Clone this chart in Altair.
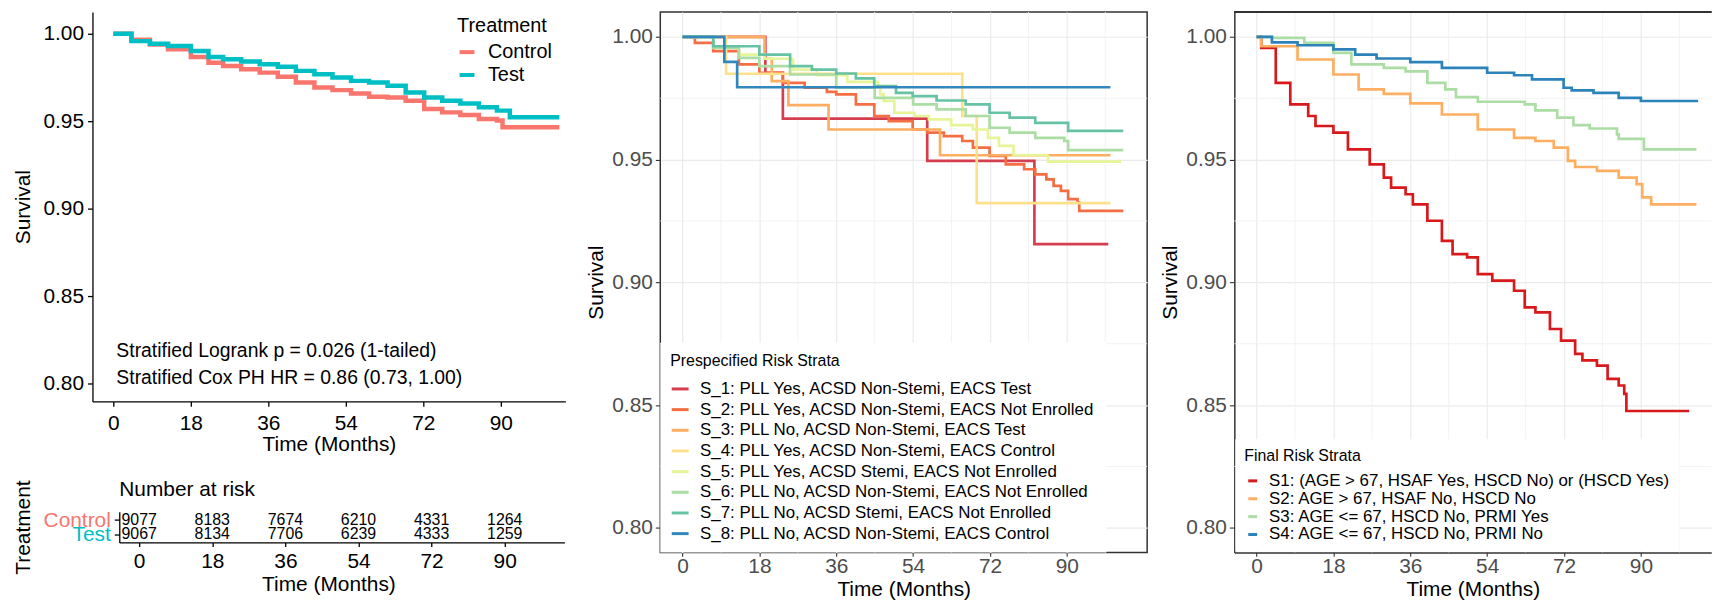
import altair as alt
import pandas as pd

FONT = "Liberation Sans"
GREY_TXT = "#4D4D4D"

# ---------------- Panel 1: treatment Kaplan-Meier ----------------
treat_groups = ["Control", "Test"]
treat_colors = ["#F8766D", "#00BFC4"]
control_time = [0, 4.2, 8.5, 12.7, 18, 22.1, 25.5, 29.7, 34, 38.2, 42.4, 46.7,
                50.9, 55.2, 59.4, 63.7, 67.9, 72.2, 76.4, 80.6, 84.9, 89.1, 90.4, 103.6]
control_surv = [1.0, 0.9966, 0.9939, 0.9912, 0.9867, 0.9835, 0.9816, 0.9797, 0.9778, 0.9754, 0.9722, 0.9693,
                0.9678, 0.9659, 0.9640, 0.9636, 0.9617, 0.9570, 0.9551, 0.9536, 0.9513, 0.9504, 0.9466, 0.9466]
test_time = [0, 4.2, 8.5, 12.7, 18, 22.1, 25.5, 29.7, 34, 38.2, 42.4, 46.7,
             50.9, 55.2, 59.4, 63.7, 67.9, 72.2, 76.4, 80.6, 84.9, 89.1, 92.1, 103.6]
test_surv = [1.0, 0.9958, 0.9943, 0.9930, 0.9902, 0.9867, 0.9854, 0.9841, 0.9826, 0.9811, 0.9788, 0.9769,
             0.9750, 0.9731, 0.9722, 0.9703, 0.9665, 0.9636, 0.9617, 0.9602, 0.9580, 0.9561, 0.9523, 0.9523]

annot_text = ["Stratified Logrank p = 0.026 (1-tailed)", "Stratified Cox PH HR = 0.86 (0.73, 1.00)"]
annot_time = [0.7, 0.7]
annot_surv = [0.8190, 0.8031]

risk_times = [0, 18, 36, 54, 72, 90]
risk_control = [9077, 8183, 7674, 6210, 4331, 1264]
risk_test = [9067, 8134, 7706, 6239, 4333, 1259]

month_ticks = [0, 18, 36, 54, 72, 90]
month_minor = [9, 27, 45, 63, 81, 99]
surv_ticks = [0.80, 0.85, 0.90, 0.95, 1.00]
surv_minor = [0.825, 0.875, 0.925, 0.975]

# ---------------- Panel 2: prespecified risk strata ----------------
pre_labels = [
    "S_1: PLL Yes, ACSD Non-Stemi, EACS Test",
    "S_2: PLL Yes, ACSD Non-Stemi, EACS Not Enrolled",
    "S_3: PLL No, ACSD Non-Stemi, EACS Test",
    "S_4: PLL Yes, ACSD Non-Stemi, EACS Control",
    "S_5: PLL Yes, ACSD Stemi, EACS Not Enrolled",
    "S_6: PLL No, ACSD Non-Stemi, EACS Not Enrolled",
    "S_7: PLL No, ACSD Stemi, EACS Not Enrolled",
    "S_8: PLL No, ACSD Non-Stemi, EACS Control",
]
pre_colors = ["#D53E4F", "#F46D43", "#FDAE61", "#FEE08B", "#E6F598", "#ABDDA4", "#66C2A5", "#3288BD"]

s1_time = [0, 19.4, 23.5, 57.3, 82.4, 99.7]
s1_surv = [1.0, 0.9854, 0.9667, 0.9495, 0.9156, 0.9156]
s2_time = [0, 2.9, 7.2, 13.2, 18, 23.5, 28.6, 33.8, 36, 40.6, 44.9, 48.3, 53.9, 57.3,
           61.2, 65.5, 68, 71.9, 75.7, 80, 82.6, 85.2, 86.9, 88.6, 90.3, 92.5, 92.9, 103.2]
s2_surv = [1.0, 0.9976, 0.9942, 0.9888, 0.9854, 0.9813, 0.9793, 0.9776, 0.9766, 0.9725, 0.9678, 0.9657, 0.9623, 0.9610,
           0.9596, 0.9576, 0.9549, 0.9515, 0.9481, 0.9461, 0.9440, 0.9420, 0.9393, 0.9373, 0.9339, 0.9325, 0.9291, 0.9291]
s3_time = [0, 19.2, 20.9, 24.8, 34.2, 60.3, 100.2]
s3_surv = [1.0, 0.9911, 0.9820, 0.9722, 0.9623, 0.9518, 0.9518]
s4_time = [0, 10.2, 65.5, 68.9, 100.2]
s4_surv = [1.0, 0.9850, 0.9678, 0.9323, 0.9323]
s5_time = [0, 7.2, 13.2, 19.2, 25.5, 25.9, 31.4, 38.6, 45.8, 46.3, 47.1, 49.6, 54.3, 57.7,
           62.9, 68, 71.5, 74.1, 77.5, 85.2, 85.6, 102.7]
s5_surv = [1.0, 0.9962, 0.9928, 0.9911, 0.9908, 0.9867, 0.9844, 0.9817, 0.9800, 0.9766, 0.9739, 0.9691, 0.9678, 0.9664,
           0.9641, 0.9623, 0.9589, 0.9556, 0.9519, 0.9515, 0.9492, 0.9492]
s6_time = [0, 7.2, 13.2, 18, 25.2, 36, 45, 54, 59.5, 66.3, 71.9, 76.6, 82.6, 89.4, 90.3, 103.2]
s6_surv = [1.0, 0.9955, 0.9915, 0.9881, 0.9847, 0.9793, 0.9752, 0.9725, 0.9705, 0.9678, 0.9630, 0.9610,
           0.9589, 0.9576, 0.9539, 0.9539]
s7_time = [0, 7.2, 18, 25.2, 30.3, 36, 40.6, 44.9, 50, 53.9, 59.5, 66.3, 71.9, 76.6, 82.6, 90.3, 103.2]
s7_surv = [1.0, 0.9962, 0.9928, 0.9881, 0.9867, 0.9851, 0.9831, 0.9800, 0.9772, 0.9759, 0.9741, 0.9725,
           0.9691, 0.9671, 0.9650, 0.9617, 0.9617]
s8_time = [0, 9.8, 12.8, 100.2]
s8_surv = [1.0, 0.9898, 0.9795, 0.9795]

# ---------------- Panel 3: final risk strata ----------------
final_labels = [
    "S1: (AGE > 67, HSAF Yes, HSCD No) or (HSCD Yes)",
    "S2: AGE > 67, HSAF No, HSCD No",
    "S3: AGE <= 67, HSCD No, PRMI Yes",
    "S4: AGE <= 67, HSCD No, PRMI No",
]
final_colors = ["#D7191C", "#FDAE61", "#ABDDA4", "#2B83BA"]

f1_time = [0, 1.1, 4.5, 7.9, 12.1, 13.8, 18, 21.4, 26.5, 29.8, 31.5, 34.9, 36.6, 40, 43.4, 45.9,
           49.3, 51.8, 55.2, 60.3, 62.8, 65.3, 68.7, 71.3, 74.6, 76.3, 79.7, 82.2, 84.8, 86.1, 86.6, 101.3]
f1_surv = [1.0, 0.9955, 0.9813, 0.9725, 0.9678, 0.9637, 0.9610, 0.9542, 0.9481, 0.9427, 0.9386, 0.9359,
           0.9318, 0.9251, 0.9169, 0.9115, 0.9102, 0.9034, 0.9007, 0.8966, 0.8898, 0.8878, 0.8810, 0.8763,
           0.8709, 0.8682, 0.8661, 0.8607, 0.8580, 0.8546, 0.8476, 0.8476]
f2_time = [0, 1.1, 9.6, 18, 23.9, 29.8, 36, 43.4, 51.8, 60.3, 65.3, 69.6, 72.9, 74.6, 79.7, 84.8,
           89, 90.3, 92.4, 103]
f2_surv = [1.0, 0.9962, 0.9908, 0.9847, 0.9786, 0.9768, 0.9729, 0.9684, 0.9623, 0.9589, 0.9576, 0.9549,
           0.9495, 0.9470, 0.9454, 0.9427, 0.9400, 0.9346, 0.9318, 0.9318]
f3_time = [0, 3.6, 11.2, 18, 22.2, 29.8, 34.9, 40, 44.2, 46.7, 51.8, 62.8, 65.3, 70.4, 74.2, 78,
           84.4, 84.8, 90.7, 103]
f3_surv = [1.0, 0.9996, 0.9976, 0.9935, 0.9888, 0.9874, 0.9860, 0.9813, 0.9786, 0.9755, 0.9736, 0.9725,
           0.9701, 0.9671, 0.9641, 0.9627, 0.9603, 0.9585, 0.9542, 0.9542]
f4_time = [0, 3.6, 9.6, 18, 23.1, 28.1, 36, 43.4, 54, 60.3, 64.5, 71.9, 73.8, 78.9, 84.8, 90, 103.4]
f4_surv = [1.0, 0.9978, 0.9966, 0.9949, 0.9928, 0.9912, 0.9897, 0.9874, 0.9854, 0.9844, 0.9827, 0.9793,
           0.9782, 0.9772, 0.9752, 0.9739, 0.9739]


def long_df(names, times, survs, key):
    rows = []
    for n, ts, ss in zip(names, times, survs):
        for t, s in zip(ts, ss):
            rows.append({key: n, "time": t, "surv": s})
    return pd.DataFrame(rows)


km_df = long_df(treat_groups, [control_time, test_time], [control_surv, test_surv], "treatment")
annot_df = pd.DataFrame({"time": annot_time, "surv": annot_surv, "label": annot_text})
risk_df = pd.DataFrame({
    "time": risk_times + risk_times,
    "treatment": ["Control"] * len(risk_times) + ["Test"] * len(risk_times),
    "n": risk_control + risk_test,
})
pre_df = long_df(pre_labels,
                 [s1_time, s2_time, s3_time, s4_time, s5_time, s6_time, s7_time, s8_time],
                 [s1_surv, s2_surv, s3_surv, s4_surv, s5_surv, s6_surv, s7_surv, s8_surv], "pre")
final_df = long_df(final_labels, [f1_time, f2_time, f3_time, f4_time],
                   [f1_surv, f2_surv, f3_surv, f4_surv], "final")
minor_x_df = pd.DataFrame({"time": month_minor})
minor_y_df = pd.DataFrame({"surv": surv_minor})

# ---------------- Left: KM plot ----------------
km_axis = dict(domainColor="black", domainWidth=1.3, tickColor="black", tickWidth=1.3, tickSize=5,
               labelColor="black", labelFontSize=21, titleFontSize=21, titleColor="black",
               titleFontWeight="normal", grid=False, labelFont=FONT, titleFont=FONT)
x_km = alt.Scale(domain=[-4.85, 105], nice=False, zero=False)
y_km = alt.Scale(domain=[0.79, 1.0125], nice=False, zero=False)

km_lines = alt.Chart(km_df).mark_line(interpolate="step-after", strokeWidth=4.5).encode(
    x=alt.X("time:Q", scale=x_km,
            axis=alt.Axis(values=month_ticks, title="Time (Months)", labelPadding=6,
                          titleY=43, titleBaseline="middle", **km_axis)),
    y=alt.Y("surv:Q", scale=y_km,
            axis=alt.Axis(values=surv_ticks, format=".2f", title="Survival", labelPadding=4,
                          titleX=-69.5, titleBaseline="middle", **km_axis)),
    color=alt.Color("treatment:N", scale=alt.Scale(domain=treat_groups, range=treat_colors),
                    legend=alt.Legend(title="Treatment", orient="none", legendX=365, legendY=2.5,
                                      padding=2, titleFontSize=20, titleFontWeight="normal",
                                      titleColor="black", titlePadding=6, labelFontSize=20,
                                      labelColor="black", symbolType="stroke", symbolSize=225,
                                      symbolStrokeWidth=4, rowPadding=3, labelOffset=11,
                                      labelLimit=300)),
)
km_text = alt.Chart(annot_df).mark_text(align="left", baseline="middle", fontSize=19.5,
                                        font=FONT, color="black").encode(
    x=alt.X("time:Q", scale=x_km), y=alt.Y("surv:Q", scale=y_km), text="label:N")
km = alt.layer(km_lines, km_text).properties(width=476, height=392)

# ---------------- Left: risk table ----------------
RISK_SHIFT = 27
risk_x_axis = dict(km_axis)
risk_x_axis["tickSize"] = 4
risk_y_axis = dict(km_axis)
risk_y_axis.pop("labelColor")
risk = alt.Chart(risk_df).mark_text(fontSize=16, font=FONT, color="black", baseline="middle").encode(
    x=alt.X("time:Q", scale=alt.Scale(domain=[-11.5, 104.7], nice=False, zero=False),
            axis=alt.Axis(values=month_ticks, title="Time (Months)", labelPadding=4,
                          titleY=42, titleBaseline="middle",
                          domainDash=[0, RISK_SHIFT, 448, 200], **risk_x_axis)),
    y=alt.Y("treatment:N", scale=alt.Scale(domain=treat_groups, type="point", padding=0.6),
            axis=alt.Axis(title="Treatment", labelPadding=4, titleX=-96.5, titleBaseline="middle",
                          offset=-RISK_SHIFT,
                          labelColor=alt.ExprRef(expr="datum.value == 'Control' ? '#F8766D' : '#00BFC4'"),
                          **risk_y_axis)),
    text=alt.Text("n:Q", format="d"),
).properties(width=475, height=31,
             title=alt.TitleParams("Number at risk", anchor="start", frame="group", fontSize=21,
                                   fontWeight="normal", offset=-20, dx=RISK_SHIFT, font=FONT,
                                   color="black"))

left_col = alt.vconcat(km, risk, spacing=23).resolve_scale(color="independent")

# ---------------- Strata panels ----------------
PX_PER_MONTH = 490 / 114.0
FRAME = "#333333"


def strata_panel(df, key, labels, colors, legend, width, closed=True):
    xs = alt.Scale(domain=[-5.2, -5.2 + width / PX_PER_MONTH], nice=False, zero=False)
    ys = alt.Scale(domain=[0.79, 1.0102], nice=False, zero=False)
    minor_x = alt.Chart(minor_x_df).mark_rule(color="#F1F1F1", strokeWidth=0.9).encode(
        x=alt.X("time:Q", scale=xs))
    minor_y = alt.Chart(minor_y_df).mark_rule(color="#F1F1F1", strokeWidth=0.9).encode(
        y=alt.Y("surv:Q", scale=ys))
    common = dict(grid=True, gridColor="#EBEBEB", gridWidth=1.2, tickColor=FRAME,
                  tickWidth=1.1, labelColor=GREY_TXT, labelFontSize=21, titleFontSize=21,
                  titleColor="black", titleFontWeight="normal", labelFont=FONT, titleFont=FONT)
    if closed:
        common["domain"] = False
    else:
        common.update(domain=True, domainColor=FRAME, domainWidth=1.5)
    lines = alt.Chart(df).mark_line(interpolate="step-after", strokeWidth=2.7).encode(
        x=alt.X("time:Q", scale=xs,
                axis=alt.Axis(values=month_ticks, title="Time (Months)", tickSize=4,
                              labelPadding=-1, titleY=37, titleBaseline="middle", **common)),
        y=alt.Y("surv:Q", scale=ys,
                axis=alt.Axis(values=surv_ticks, format=".2f", title="Survival",
                              tickSize=5, labelPadding=3, titleX=-64, titleBaseline="middle", **common)),
        color=alt.Color(f"{key}:N", scale=alt.Scale(domain=labels, range=colors), legend=legend),
    )
    layers = [minor_x, minor_y, lines]
    if closed:
        return alt.layer(*layers).properties(
            width=width, height=544, view=alt.ViewBackground(stroke=FRAME, strokeWidth=1.5))
    # open on the right: the panel continues past the window edge, only its top edge is drawn
    top_edge = alt.Chart(minor_x_df).mark_rule(color=FRAME, strokeWidth=1.5).encode(
        x=alt.value(0), x2=alt.value(width), y=alt.value(0))
    return alt.layer(*layers, top_edge).properties(width=width, height=544)


pre_legend = alt.Legend(title="Prespecified Risk Strata", orient="none", legendX=0, legendY=333,
                        fillColor="white", padding=10, titleFontSize=16, titleFontWeight="normal",
                        titleColor="black", titlePadding=10.5, labelFontSize=17, labelColor="black",
                        symbolType="stroke", symbolSize=289, symbolStrokeWidth=3, rowPadding=2.8,
                        labelOffset=10, labelLimit=600)
final_legend = alt.Legend(title="Final Risk Strata", orient="none", legendX=1, legendY=430,
                          fillColor="white", padding=9, titleFontSize=16, titleFontWeight="normal",
                          titleColor="black", titlePadding=8.5, labelFontSize=17, labelColor="black",
                          symbolType="stroke", symbolSize=81, symbolStrokeWidth=3, rowPadding=0,
                          labelOffset=8, labelLimit=600)

middle = strata_panel(pre_df, "pre", pre_labels, pre_colors, pre_legend, 490)
right = strata_panel(final_df, "final", final_labels, final_colors, final_legend, 480, closed=False)

right_pair = alt.hconcat(middle, right, spacing=9.75).resolve_scale(color="independent")

chart = alt.hconcat(left_col, right_pair, spacing=15.5).resolve_scale(color="independent").properties(
    padding={"left": 3, "top": 0, "right": 0, "bottom": 0}
).configure(font=FONT).configure_view(stroke="transparent")

chart.save("out.html", embed_options={"renderer": "svg", "actions": False})
